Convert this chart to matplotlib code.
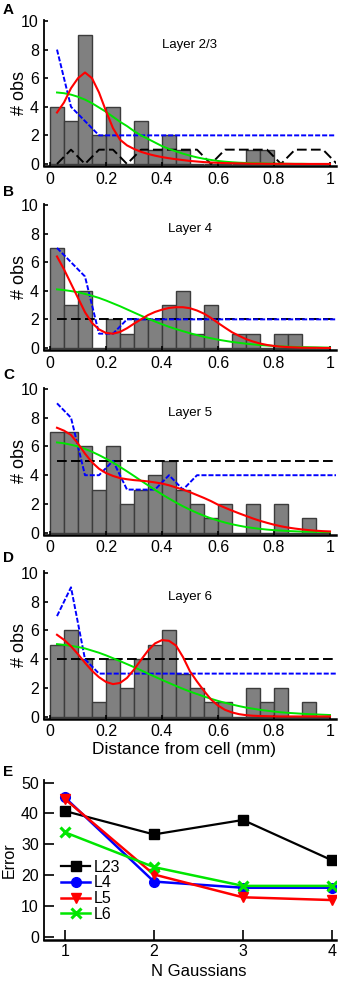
import numpy as np
import matplotlib
matplotlib.use("Agg")
import matplotlib.pyplot as plt

plt.rcParams['font.family'] = ['Liberation Sans', 'DejaVu Sans']

# histogram bins (mm), 0.05 wide from 0 to 1
bin_edges = np.arange(20) * 0.05
# step model lines evaluated at bin centres
step_x = 0.025 + np.arange(21) * 0.05
# smooth fits sampled every 0.025 mm
fit_x = 0.025 + np.arange(40) * 0.025

layers = ["Layer 2/3", "Layer 4", "Layer 5", "Layer 6"]
letters = ["A", "B", "C", "D"]

counts_l23 = [4, 3, 9, 2, 4, 0, 3, 1, 2, 1, 0, 0, 0, 0, 1, 1, 0, 0, 0, 0]
counts_l4 = [7, 3, 4, 0, 2, 1, 2, 2, 3, 4, 1, 3, 0, 1, 1, 0, 1, 1, 0, 0]
counts_l5 = [7, 7, 6, 3, 6, 2, 3, 4, 5, 3, 2, 1, 2, 0, 2, 0, 2, 0, 1, 0]
counts_l6 = [5, 6, 4, 1, 4, 2, 4, 5, 6, 3, 2, 1, 1, 0, 2, 1, 2, 0, 1, 0]

black_l23 = [0, 1, 0, 1, 1, 0, 1, 1, 1, 1, 1, 0, 1, 1, 1, 1, 0, 1, 1, 1, 0]
black_l4 = [2] * 21
black_l5 = [5] * 21
black_l6 = [4] * 21

blue_l23 = [8, 4, 3, 2, 2, 2, 2, 2, 2, 2, 2, 2, 2, 2, 2, 2, 2, 2, 2, 2, 2]
blue_l4 = [7, 6, 5, 1, 1, 2, 2, 2, 2, 2, 2, 2, 2, 2, 2, 2, 2, 2, 2, 2, 2]
blue_l5 = [9, 8, 4, 4, 5, 3, 3, 3, 4, 3, 4, 4, 4, 4, 4, 4, 4, 4, 4, 4, 4]
blue_l6 = [7, 9, 4, 3, 3, 3, 3, 3, 3, 3, 3, 3, 3, 3, 3, 3, 3, 3, 3, 3, 3]

red_l23 = [3.6, 4.3, 5.3, 6.0, 6.4, 6.0, 5.0, 3.7, 2.5, 1.7,
           1.3, 1.05, 0.85, 0.7, 0.58, 0.48, 0.4, 0.33, 0.27, 0.21,
           0.17, 0.13, 0.1, 0.08, 0.06, 0.05, 0.04, 0.03, 0.02, 0.02,
           0.01, 0.01, 0.01, 0.01, 0.0, 0.0, 0.0, 0.0, 0.0, 0.0]
red_l4 = [6.4, 5.5, 4.5, 3.5, 2.5, 1.75, 1.3, 1.05, 1.0, 1.12,
          1.38, 1.7, 2.0, 2.3, 2.52, 2.68, 2.8, 2.85, 2.85, 2.78,
          2.62, 2.4, 2.1, 1.75, 1.42, 1.1, 0.85, 0.62, 0.45, 0.31,
          0.21, 0.14, 0.09, 0.06, 0.04, 0.02, 0.01, 0.01, 0.0, 0.0]
red_l5 = [7.3, 7.1, 6.8, 6.2, 5.5, 4.9, 4.45, 4.15, 3.95, 3.8,
          3.72, 3.66, 3.62, 3.57, 3.5, 3.42, 3.3, 3.15, 3.0, 2.82,
          2.62, 2.42, 2.2, 1.95, 1.74, 1.54, 1.35, 1.17, 0.99, 0.83,
          0.69, 0.56, 0.45, 0.36, 0.29, 0.23, 0.18, 0.14, 0.11, 0.09]
red_l6 = [5.7, 5.35, 4.9, 4.35, 3.75, 3.2, 2.75, 2.42, 2.27, 2.35,
          2.7, 3.28, 3.95, 4.6, 5.1, 5.33, 5.28, 4.95, 4.15, 3.15,
          2.45, 1.8, 1.2, 0.78, 0.48, 0.3, 0.18, 0.11, 0.07, 0.05,
          0.04, 0.03, 0.02, 0.02, 0.02, 0.02, 0.02, 0.02, 0.02, 0.02]

green_l23 = [5.0, 4.95, 4.85, 4.7, 4.5, 4.25, 3.95, 3.65, 3.3, 2.95,
             2.65, 2.3, 2.0, 1.75, 1.5, 1.25, 1.05, 0.88, 0.72, 0.58,
             0.46, 0.36, 0.28, 0.21, 0.16, 0.12, 0.09, 0.07, 0.05, 0.04,
             0.03, 0.02, 0.02, 0.01, 0.01, 0.01, 0.0, 0.0, 0.0, 0.0]
green_l4 = [4.1, 4.05, 3.98, 3.9, 3.78, 3.65, 3.5, 3.32, 3.12, 2.92,
            2.7, 2.48, 2.26, 2.05, 1.85, 1.66, 1.48, 1.32, 1.17, 1.03,
            0.9, 0.78, 0.68, 0.58, 0.5, 0.42, 0.36, 0.3, 0.25, 0.2,
            0.17, 0.14, 0.11, 0.09, 0.07, 0.06, 0.05, 0.04, 0.03, 0.02]
green_l5 = [6.28, 6.22, 6.12, 6.0, 5.83, 5.63, 5.4, 5.15, 4.88, 4.58,
            4.27, 3.95, 3.62, 3.3, 2.98, 2.67, 2.38, 2.1, 1.84, 1.6,
            1.38, 1.18, 1.0, 0.85, 0.71, 0.59, 0.49, 0.4, 0.33, 0.27,
            0.22, 0.18, 0.15, 0.12, 0.1, 0.08, 0.07, 0.06, 0.05, 0.04]
green_l6 = [5.05, 5.0, 4.93, 4.85, 4.75, 4.6, 4.45, 4.27, 4.07, 3.87,
            3.66, 3.45, 3.23, 3.0, 2.78, 2.56, 2.35, 2.14, 1.94, 1.75,
            1.58, 1.41, 1.25, 1.1, 0.97, 0.85, 0.74, 0.64, 0.56, 0.48,
            0.42, 0.36, 0.31, 0.27, 0.24, 0.21, 0.18, 0.16, 0.14, 0.12]

# panel E: fit error vs number of gaussians
n_gauss = [1, 2, 3, 4]
err_l23 = [40.8, 33.2, 37.9, 24.8]
err_l4 = [45.2, 17.9, 15.9, 15.9]
err_l5 = [44.7, 20.2, 12.8, 11.9]
err_l6 = [33.9, 22.6, 16.5, 16.5]

all_counts = [counts_l23, counts_l4, counts_l5, counts_l6]
all_black = [black_l23, black_l4, black_l5, black_l6]
all_blue = [blue_l23, blue_l4, blue_l5, blue_l6]
all_red = [red_l23, red_l4, red_l5, red_l6]
all_green = [green_l23, green_l4, green_l5, green_l6]

W, H = 338, 981
fig = plt.figure(figsize=(W / 100, H / 100), dpi=100)

# axes boxes in pixels: (left, top, right, bottom)
boxes = [(44.4, 19.6, 335.6, 166.1),
         (44.4, 203.6, 335.6, 350.1),
         (44.4, 387.5, 335.6, 534.9),
         (44.4, 571.5, 335.6, 718.9)]
letter_y = [10, 192, 375, 558]


def px_axes(box):
    l, t, r, b = box
    return fig.add_axes([l / W, 1 - b / H, (r - l) / W, (b - t) / H])


def style_axes(ax, tick_len=3, size=11.5):
    for s in ['top', 'right']:
        ax.spines[s].set_visible(False)
    ax.spines['left'].set_linewidth(1.3)
    ax.spines['bottom'].set_linewidth(1.8)
    ax.tick_params(direction='in', length=tick_len, width=1.2,
                   labelsize=size, pad=4)


for i in range(4):
    ax = px_axes(boxes[i])
    ax.bar(bin_edges, all_counts[i], width=0.05, align='edge',
           color='#808080', edgecolor='#3c3c3c', linewidth=1.0, zorder=1)
    ax.plot(step_x, all_black[i], color='black', lw=1.4,
            linestyle=(0, (5, 2.2)), zorder=2)
    ax.plot(step_x, all_blue[i], color='#0000ff', lw=1.4,
            linestyle=(0, (2.6, 1.0)), zorder=3)
    ax.plot(fit_x, all_green[i], color='#00e600', lw=1.4, zorder=4)
    ax.plot(fit_x, all_red[i], color='#ff0000', lw=1.5, zorder=5)
    ax.text(0.5, 8.3, layers[i], ha='center', va='center', fontsize=9.5)
    ax.set_xlim(-0.02, 1.02)
    ax.set_ylim(-0.15, 10.1)
    ax.set_xticks([0, 0.2, 0.4, 0.6, 0.8, 1])
    ax.set_xticklabels(['0', '0.2', '0.4', '0.6', '0.8', '1'])
    ax.set_yticks([0, 2, 4, 6, 8, 10])
    style_axes(ax)
    ax.set_ylabel('# obs', fontsize=13)
    ax.yaxis.set_label_coords(-0.055, 0.5)
    fig.text(3 / W, 1 - letter_y[i] / H, letters[i], fontsize=11,
             fontweight='bold', va='center', ha='left')
    if i == 3:
        ax.set_xlabel('Distance from cell (mm)', fontsize=12.5)
        ax.xaxis.set_label_coords(0.48, -0.16)

# panel E
axE = px_axes((44.4, 779.6, 335.6, 939.8))
axE.plot(n_gauss, err_l23, color='black', lw=1.6, marker='s', ms=7, label='L23')
axE.plot(n_gauss, err_l4, color='#0000ff', lw=1.8, marker='o', ms=7, label='L4')
axE.plot(n_gauss, err_l5, color='#ff0000', lw=1.8, marker='v', ms=7, label='L5')
axE.plot(n_gauss, err_l6, color='#00e600', lw=1.8, marker='x', ms=7, mew=2.2,
         label='L6')
axE.set_xlim(0.77, 4.04)
axE.set_ylim(-1, 51)
axE.set_xticks(n_gauss)
axE.set_yticks([0, 10, 20, 30, 40, 50])
style_axes(axE, tick_len=7)
axE.tick_params(axis='x', pad=3)
axE.set_ylabel('Error', fontsize=11.5)
axE.yaxis.set_label_coords(-0.095, 0.5)
axE.set_xlabel('N Gaussians', fontsize=12)
axE.xaxis.set_label_coords(0.53, -0.15)
axE.legend(loc='upper left', bbox_to_anchor=(0.02, 0.57), frameon=False,
           fontsize=11.5, handlelength=1.8, handletextpad=0.2,
           labelspacing=0.05, borderpad=0.2)
fig.text(3 / W, 1 - 772 / H, 'E', fontsize=11, fontweight='bold',
         va='center', ha='left')

fig.savefig('out.png', dpi=100)
